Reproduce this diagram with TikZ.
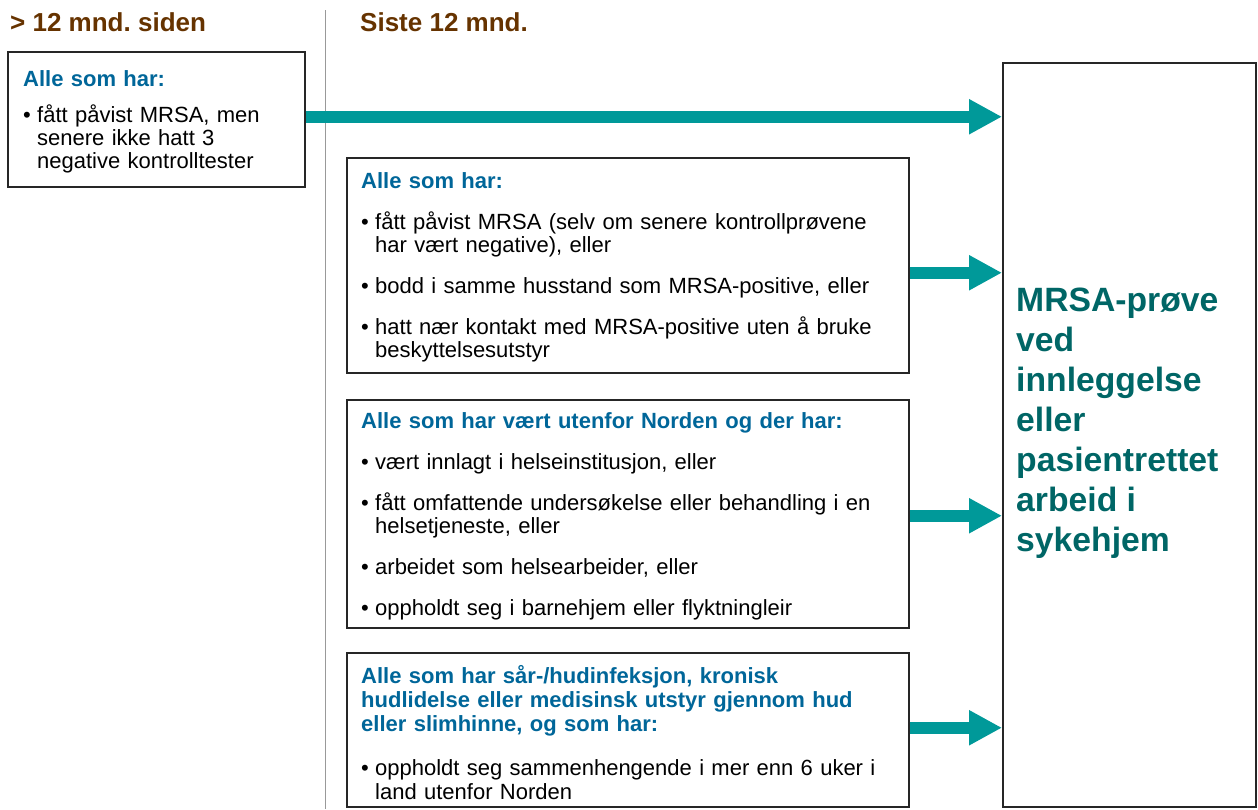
\documentclass[tikz,border=0pt]{standalone}
\usepackage{fontspec}
\setmainfont{Liberation Sans}
\usetikzlibrary{positioning, arrows.meta}
\definecolor{hdbrown}{HTML}{663300}
\definecolor{hdblue}{HTML}{006699}
\definecolor{flowteal}{HTML}{009999}
\definecolor{bigteal}{HTML}{006666}
\hyphenpenalty=10000
\exhyphenpenalty=10000
\newcommand{\hd}[1]{\noindent\textcolor{hdblue}{\bfseries #1}\par}
\newcommand{\itm}[2][18pt]{\par\vspace{#1}\hangindent=14pt\hangafter=1\noindent\makebox[14pt][l]{\textbullet}#2\par}

\begin{document}
\begin{tikzpicture}[x=1pt, y=-1pt,
  box/.style={draw=black!85, line width=1.5pt, anchor=north west, inner sep=0pt},
  txt/.style={anchor=north west, inner sep=0pt, align=left, text width=535pt,
    font=\fontsize{22}{23}\selectfont},
  flow/.style={line width=12pt, flowteal, -{Triangle[length=33pt, width=33pt]}}]
  \useasboundingbox (0,0) rectangle (1258,809);

  % Column headings and the line between them
  \node[anchor=base west, inner sep=0pt, text=hdbrown,
    font=\fontsize{26}{30}\selectfont\bfseries] (older) at (10,31) {> 12 mnd.\ siden};
  \node[anchor=base west, inner sep=0pt, text=hdbrown,
    font=\fontsize{26}{30}\selectfont\bfseries] (recent) at (360,31) {Siste 12 mnd.};
  \draw[black!40, line width=1pt] (325,10) -- (325,809);

  % Boxes
  \node[box, minimum width=297pt, minimum height=135pt] (oldbox) at (7,51) {};
  \node[box, minimum width=562pt, minimum height=215pt] (contact) at (346,157) {};
  \node[box, minimum width=562pt, minimum height=228pt] (abroad) at (346,399) {};
  \node[box, minimum width=562pt, minimum height=154pt] (skin) at (346,652) {};
  \node[box, minimum width=253pt, minimum height=744pt] (target) at (1002,62) {};

  % Box texts
  \node[txt, text width=268pt] (oldtext) at ([shift={(16pt,-19pt)}]oldbox.north west)
    {\hd{Alle som har:}
     \itm[13pt]{fått påvist MRSA, men senere ikke hatt 3 negative kontrolltester}};
  \node[txt] (contacttext) at ([shift={(15pt,-15pt)}]contact.north west)
    {\hd{Alle som har:}
     \itm{fått påvist MRSA (selv om senere kontrollprøvene har vært negative), eller}
     \itm{bodd i samme husstand som MRSA-positive, eller}
     \itm{hatt nær kontakt med MRSA-positive uten å bruke beskyttelsesutstyr}};
  \node[txt] (abroadtext) at ([shift={(15pt,-13pt)}]abroad.north west)
    {\hd{Alle som har vært utenfor Norden og der har:}
     \itm{vært innlagt i helseinstitusjon, eller}
     \itm{fått omfattende undersøkelse eller behandling i en helsetjeneste, eller}
     \itm{arbeidet som helsearbeider, eller}
     \itm{oppholdt seg i barnehjem eller flyktningleir}};
  \node[txt, font=\fontsize{22}{24}\selectfont] (skintext) at ([shift={(15pt,-13pt)}]skin.north west)
    {\hd{Alle som har sår-/hudinfeksjon, kronisk\\hudlidelse eller medisinsk utstyr gjennom hud\\eller slimhinne, og som har:}
     \itm[20pt]{oppholdt seg sammenhengende i mer enn 6 uker i land utenfor Norden}};
  \node[anchor=north west, inner sep=0pt, align=left, text=bigteal,
    font=\fontsize{33.7}{40}\selectfont\bfseries] (targettext)
    at ([shift={(14pt,-226pt)}]target.north west)
    {MRSA-prøve\\ved\\innleggelse\\eller\\pasientrettet\\arbeid i\\sykehjem};

  % Arrows into the test box
  \foreach \b/\s in {oldbox/2.5, contact/-7.5, abroad/-2, skin/2} {
    \path ([yshift=\s pt]\b.east) coordinate (from);
    \draw[flow] (from) -- (from -| target.west);
  }
\end{tikzpicture}
\end{document}
